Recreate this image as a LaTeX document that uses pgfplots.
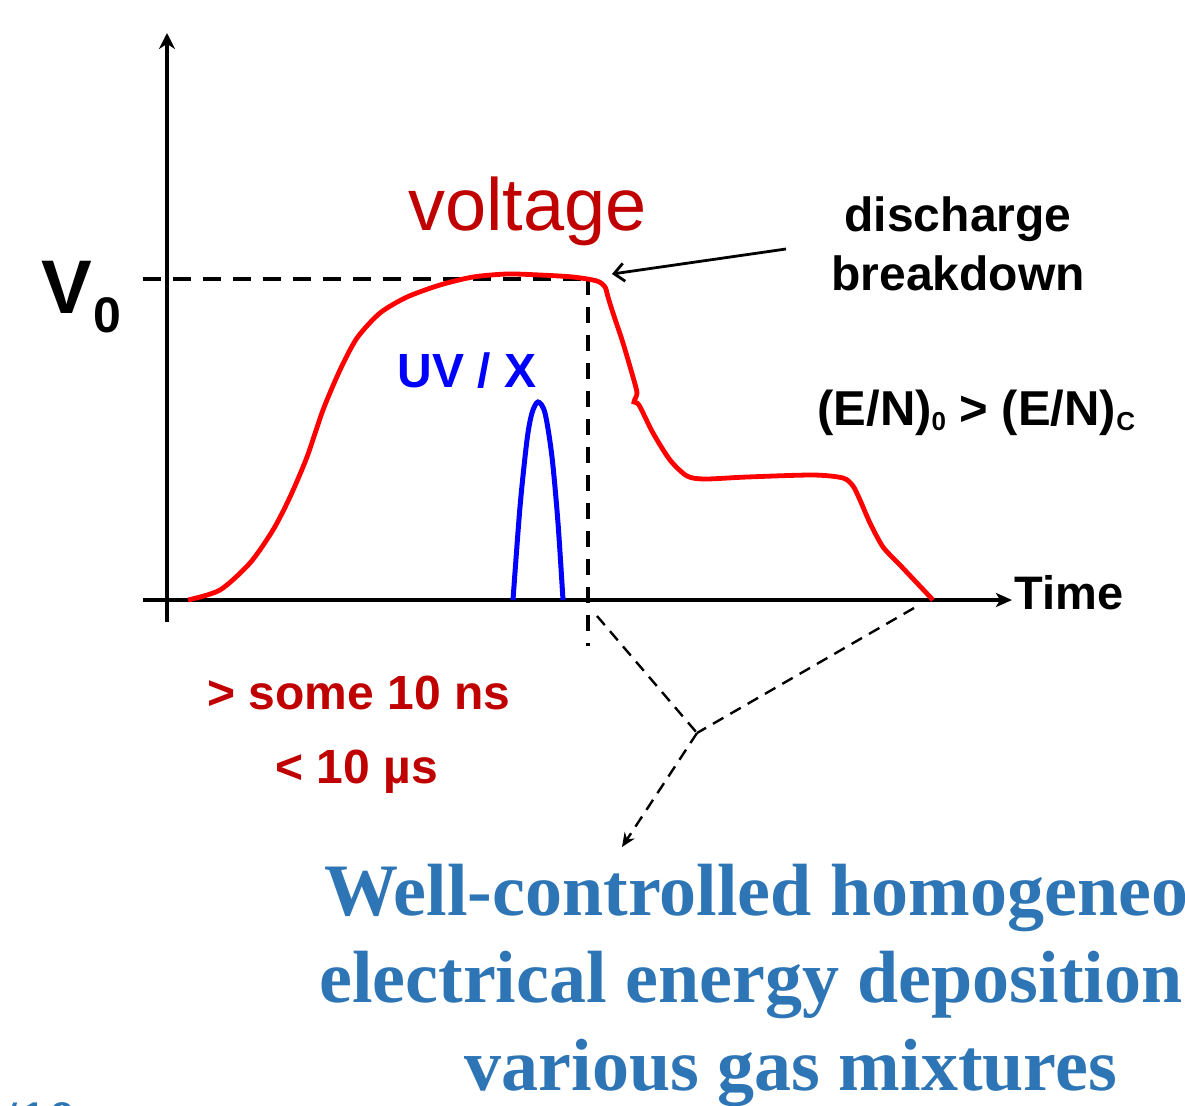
\documentclass[border=0pt]{standalone}
\usepackage{pgfplots}
\pgfplotsset{compat=1.18}
\usetikzlibrary{arrows.meta}
\usepackage{fontspec}
\setmainfont{Liberation Sans}
\newfontfamily\timesfont{Liberation Serif}
\definecolor{darkred}{RGB}{192,0,0}
\definecolor{steel}{RGB}{46,117,182}
\newcommand{\fs}[1]{\fontsize{#1}{#1}\selectfont}
\begin{document}
\begin{tikzpicture}
\begin{axis}[scale only axis, width=592.5bp, height=553bp,
  xmin=0, xmax=1185, ymin=0, ymax=1106, y dir=reverse,
  hide axis, clip=false]
\coordinate (BL) at (0,1106);
\coordinate (TR) at (1185,0);
% axes
\draw[line width=2.2bp, -{Stealth[length=8bp,width=8bp]}] (167,622) -- (167,33);
\draw[line width=2.2bp, -{Stealth[length=8bp,width=7bp,inset=2bp]}] (143,600) -- (1012,600);
% V0 dashed guides
\draw[line width=2bp, dash pattern=on 9bp off 6bp] (143,279) -- (588,279);
\draw[line width=2bp, dash pattern=on 8bp off 6bp] (588,279) -- (588,646);
% voltage curve
\addplot[red, line width=2.4bp, smooth, tension=0.45] coordinates {
(188,600) (220,590) (250,563) (273,530) (290,497) (307,457) (323,410) (340,370)
(357,338) (380,313) (407,297) (440,285) (473,277) (507,274) (540,275) (573,277)
(597,281) (605,287) (608,297) (613,313) (623,343) (633,377) (637,393) (634,402)
(639,405) (653,433) (670,460) (687,476) (705,479) (747,477) (813,475) (843,478)
(853,486) (860,500) (870,523) (883,547) (900,565) (933,600)};
% UV / X pulse
\addplot[blue, line width=2.5bp, smooth, tension=0.5] coordinates {
(513,600) (520,507) (527,440) (532,413) (538,402) (545,413) (552,457) (558,523) (563,600)};
% dashed Y
\draw[line width=1.2bp, dash pattern=on 6bp off 4bp] (597,616) -- (697,733);
\draw[line width=1.2bp, dash pattern=on 6bp off 4bp] (914,608) -- (697,733);
\draw[line width=1.2bp, dash pattern=on 6bp off 4bp, -{Stealth[length=7bp,width=6bp]}] (697,733) -- (622,847);
% breakdown arrow
\draw[line width=1.4bp, -{Straight Barb[length=5bp,width=9bp]}] (786,249) -- (612,274);
% texts
\node[anchor=base west, inner sep=0, text=darkred, font=\fs{37bp}] at (408,230) {voltage};
\node[anchor=base west, inner sep=0, font=\bfseries\fs{38bp}] at (41,313) {V};
\node[anchor=base west, inner sep=0, font=\bfseries\fs{25bp}] at (93,332) {0};
\node[anchor=base, inner sep=0, font=\bfseries\fs{24bp}] at (958,231) {discharge};
\node[anchor=base, inner sep=0, font=\bfseries\fs{24bp}] at (958,290) {breakdown};
\node[anchor=base west, inner sep=0, text=blue, font=\bfseries\fs{24bp}] at (397,387) {UV / X};
\node[anchor=base west, inner sep=0, font=\bfseries\fs{24.5bp}] at (817,425)
  {(E/N)\raisebox{-2.5bp}{\fs{13bp}0} > (E/N)\raisebox{-2.5bp}{\fs{13bp}C}};
\node[anchor=base west, inner sep=0, font=\bfseries\fs{23.5bp}] at (1014,609) {Time};
\node[anchor=base west, inner sep=0, text=darkred, font=\bfseries\fs{24bp}] at (207,709) {> some 10 ns};
\node[anchor=base west, inner sep=0, text=darkred, font=\bfseries\fs{24bp}] at (275,783) {< 10 µs};
\node[anchor=base, inner sep=0, text=steel, font=\timesfont\bfseries\fs{37bp}] at (791,915) {Well-controlled homogeneous};
\node[anchor=base, inner sep=0, text=steel, font=\timesfont\bfseries\fs{37bp}] at (791,1002) {electrical energy deposition in};
\node[anchor=base, inner sep=0, text=steel, font=\timesfont\bfseries\fs{37bp}] at (791,1090) {various gas mixtures};
\node[anchor=base west, inner sep=0, text=steel, font=\timesfont\bfseries\fs{30bp}] at (-43,1142) {V/10 mm, at};
\end{axis}
\pgfresetboundingbox
\path[use as bounding box] (BL) rectangle (TR);
\end{tikzpicture}
\end{document}
